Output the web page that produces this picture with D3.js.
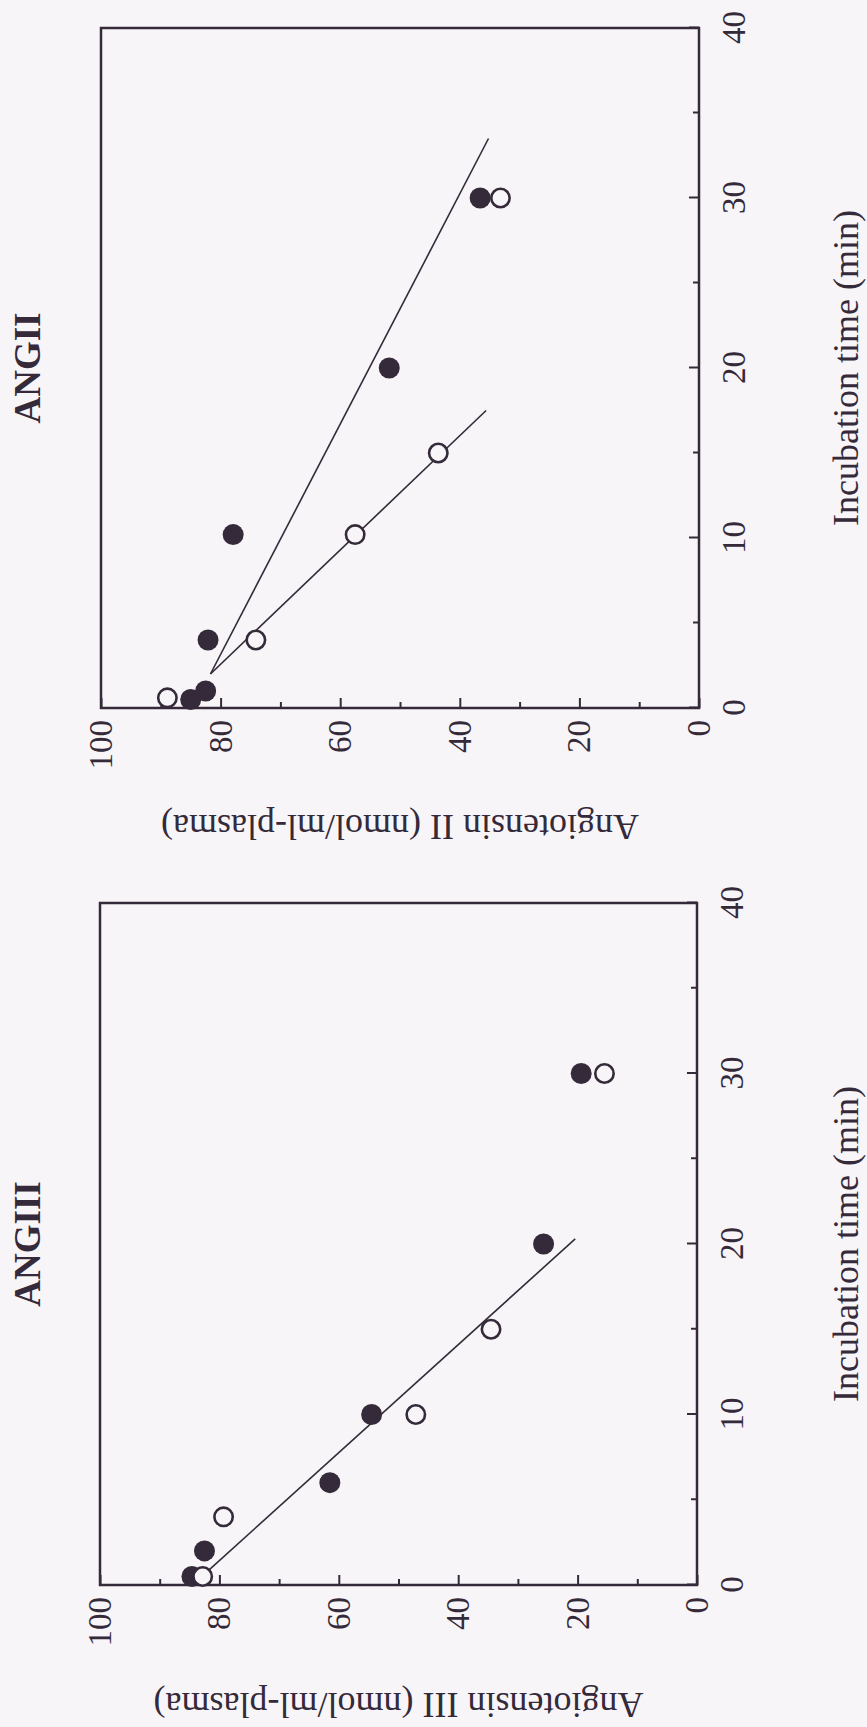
<!DOCTYPE html>
<html>
<head>
<meta charset="utf-8">
<script src="https://cdn.jsdelivr.net/npm/d3@7"></script>
<style>
  html, body { margin: 0; padding: 0; background: #f8f5f8; }
  svg { display: block; }
</style>
</head>
<body>
<svg id="chart" width="867" height="1727"></svg>
<script>
// ---- data -------------------------------------------------------------
const timeTicks = [0, 10, 20, 30, 40];
const timeMinorTicks = [5, 15, 25, 35];
const concTicks = [0, 20, 40, 60, 80, 100];
const concMinorTicks = [10, 30, 50, 70, 90];

// Angiotensin II remaining in plasma (nmol/ml) vs incubation time (min)
const angIIFilledTime = [0.5, 1, 4, 10.2, 20, 30];
const angIIFilledConc = [85.0, 82.5, 82.1, 77.9, 51.8, 36.6];
const angIIOpenTime = [0.6, 4, 10.2, 15, 30];
const angIIOpenConc = [88.9, 74.1, 57.5, 43.6, 33.2];
const angIIFilledFitTime = [2, 33.5];
const angIIFilledFitConc = [81.7, 35.2];
const angIIOpenFitTime = [2, 17.5];
const angIIOpenFitConc = [81.7, 35.6];

// Angiotensin III remaining in plasma (nmol/ml) vs incubation time (min)
const angIIIFilledTime = [0.5, 2, 6, 10, 20, 30];
const angIIIFilledConc = [84.6, 82.5, 61.5, 54.5, 25.7, 19.4];
const angIIIOpenTime = [0.5, 4, 10, 15, 30];
const angIIIOpenConc = [82.8, 79.3, 47.1, 34.5, 15.5];
const angIIIFitTime = [0.8, 20.3];
const angIIIFitConc = [82.0, 20.4];

// ---- drawing ----------------------------------------------------------
const W = 867, H = 1727;
const ink = "#342a39";
const paper = "#f8f5f8";
const serif = "'Liberation Serif', 'Times New Roman', Times, serif";

const svg = d3.select("#chart");
svg.append("rect").attr("width", W).attr("height", H).attr("fill", paper);

// The figure is laid out landscape (H wide, W tall) and then turned
// a quarter turn counter-clockwise onto the portrait sheet.
const sheet = svg.append("g").attr("transform", `translate(0,${H}) rotate(-90)`);

const panels = [
  {
    title: "ANGIII",
    yTitle: "Angiotensin III (nmol/ml-plasma)",
    tRange: [142, 824],
    cRange: [100, 697],
    yTitleGap: 108,
    filled: d3.zip(angIIIFilledTime, angIIIFilledConc),
    open: d3.zip(angIIIOpenTime, angIIIOpenConc),
    fits: [d3.zip(angIIIFitTime, angIIIFitConc)]
  },
  {
    title: "ANGII",
    yTitle: "Angiotensin II (nmol/ml-plasma)",
    tRange: [1019, 1699],
    cRange: [101, 699],
    yTitleGap: 107,
    filled: d3.zip(angIIFilledTime, angIIFilledConc),
    open: d3.zip(angIIOpenTime, angIIOpenConc),
    fits: [d3.zip(angIIFilledFitTime, angIIFilledFitConc),
           d3.zip(angIIOpenFitTime, angIIOpenFitConc)]
  }
];

panels.forEach(p => {
  const x = d3.scaleLinear().domain([0, 40]).range(p.tRange);
  const y = d3.scaleLinear().domain([0, 100]).range([p.cRange[1], p.cRange[0]]);
  const g = sheet.append("g");

  // time axis (inward ticks)
  const xa = g.append("g")
    .attr("transform", `translate(0,${y(0)})`)
    .attr("color", ink)
    .call(d3.axisBottom(x).tickValues(timeTicks).tickSizeInner(-10)
      .tickSizeOuter(0).tickPadding(23).tickFormat(d3.format("d")));
  xa.select(".domain").remove();
  xa.selectAll("line").attr("stroke-width", 2);
  xa.selectAll("text").attr("font-family", serif).attr("font-size", 33);

  const xm = g.append("g")
    .attr("transform", `translate(0,${y(0)})`)
    .attr("color", ink)
    .call(d3.axisBottom(x).tickValues(timeMinorTicks).tickSizeInner(-6)
      .tickSizeOuter(0).tickFormat(""));
  xm.select(".domain").remove();
  xm.selectAll("line").attr("stroke-width", 2);

  // concentration axis (inward ticks)
  const ya = g.append("g")
    .attr("transform", `translate(${x(0)},0)`)
    .attr("color", ink)
    .call(d3.axisLeft(y).tickValues(concTicks).tickSizeInner(-10)
      .tickSizeOuter(0).tickPadding(12).tickFormat(d3.format("d")));
  ya.select(".domain").remove();
  ya.selectAll("line").attr("stroke-width", 2);
  ya.selectAll("text").attr("font-family", serif).attr("font-size", 33);

  const ym = g.append("g")
    .attr("transform", `translate(${x(0)},0)`)
    .attr("color", ink)
    .call(d3.axisLeft(y).tickValues(concMinorTicks).tickSizeInner(-6)
      .tickSizeOuter(0).tickFormat(""));
  ym.select(".domain").remove();
  ym.selectAll("line").attr("stroke-width", 2);

  // frame
  g.append("rect")
    .attr("x", x(0)).attr("y", y(100))
    .attr("width", x(40) - x(0)).attr("height", y(0) - y(100))
    .attr("fill", "none").attr("stroke", ink).attr("stroke-width", 2.5);

  // regression lines
  const line = d3.line().x(d => x(d[0])).y(d => y(d[1]));
  g.selectAll("path.fit").data(p.fits).enter().append("path")
    .attr("class", "fit")
    .attr("d", line)
    .attr("fill", "none").attr("stroke", ink).attr("stroke-width", 1.6);

  // data points: filled first, open circles on top
  g.selectAll("circle.filled").data(p.filled).enter().append("circle")
    .attr("class", "filled")
    .attr("cx", d => x(d[0])).attr("cy", d => y(d[1]))
    .attr("r", 10.5).attr("fill", ink);
  g.selectAll("circle.open").data(p.open).enter().append("circle")
    .attr("class", "open")
    .attr("cx", d => x(d[0])).attr("cy", d => y(d[1]))
    .attr("r", 9.2).attr("fill", paper)
    .attr("stroke", ink).attr("stroke-width", 2.6);

  // panel title
  g.append("text")
    .attr("x", x(20)).attr("y", 27).attr("dy", "0.35em")
    .attr("text-anchor", "middle")
    .attr("font-family", serif).attr("font-weight", "bold").attr("font-size", 37)
    .attr("fill", ink)
    .text(p.title);

  // axis titles
  g.append("text")
    .attr("x", x(20)).attr("y", 858)
    .attr("text-anchor", "middle")
    .attr("font-family", serif).attr("font-size", 36)
    .attr("fill", ink)
    .text("Incubation time (min)");

  g.append("text")
    .attr("transform", `translate(${x(0) - p.yTitleGap},${y(50)}) rotate(-90)`)
    .attr("text-anchor", "middle")
    .attr("font-family", serif).attr("font-size", 36)
    .attr("fill", ink)
    .text(p.yTitle);
});
</script>
</body>
</html>
